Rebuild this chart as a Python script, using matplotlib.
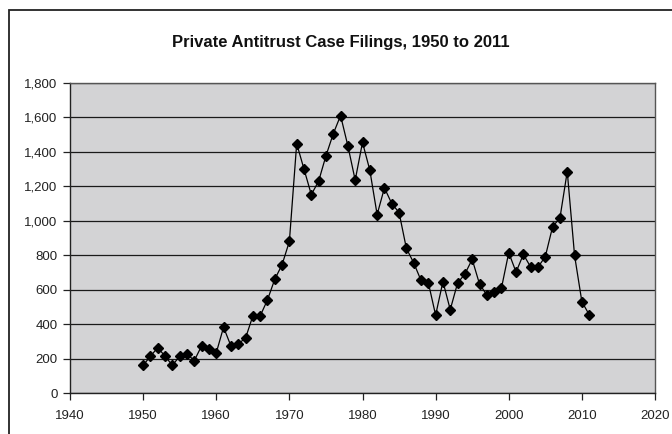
import matplotlib
matplotlib.use('Agg')
import matplotlib.pyplot as plt
from matplotlib.patches import Rectangle
from matplotlib.ticker import FuncFormatter

years = list(range(1950, 2012))
filings = [161, 213, 264, 213, 161, 213, 227, 188, 274, 254,
           233, 382, 274, 286, 318, 447, 447, 540, 660, 745,
           880, 1448, 1300, 1152, 1230, 1377, 1505, 1611, 1435, 1236,
           1455, 1294, 1036, 1191, 1100, 1048, 840, 756, 654, 641,
           452, 647, 484, 638, 691, 776, 633, 569, 588, 609,
           815, 702, 805, 731, 731, 792, 966, 1016, 1286, 799,
           530, 455]

x_ticks = list(range(1940, 2021, 10))
y_ticks = list(range(0, 1801, 200))

plt.rcParams['font.family'] = ['Liberation Sans Narrow', 'Liberation Sans', 'DejaVu Sans']

fig = plt.figure(figsize=(6.72, 4.34), dpi=100)
fig.patch.set_facecolor('white')

# outer chart frame (open on right and bottom)
fig.patches.append(Rectangle((9 / 672, -0.2), 1.2, 1.2 - 10 / 434,
                             transform=fig.transFigure, fill=False,
                             edgecolor='#222222', linewidth=1.3))

ax = fig.add_axes([70 / 672, 1 - 393 / 434, 585 / 672, 310 / 434])
ax.set_facecolor('#d3d3d5')

ax.plot(years, filings, color='black', linewidth=0.9, marker='D',
        markersize=5, markerfacecolor='black', markeredgecolor='black', zorder=3)

ax.set_xlim(1940, 2020)
ax.set_ylim(0, 1800)
ax.set_xticks(x_ticks)
ax.set_yticks(y_ticks)
ax.yaxis.set_major_formatter(FuncFormatter(lambda v, p: f'{int(v):,}'))
ax.grid(axis='y', color='#1a1a1a', linewidth=0.9)
ax.set_axisbelow(True)

for side in ['top', 'right']:
    ax.spines[side].set_color('#555555')
    ax.spines[side].set_linewidth(1.0)
for side in ['left', 'bottom']:
    ax.spines[side].set_color('#222222')
    ax.spines[side].set_linewidth(1.0)

ax.tick_params(axis='both', direction='out', length=5, width=0.9,
               labelsize=9.5, colors='#222222', pad=4)
ax.tick_params(axis='x', pad=7)

fig.text(341 / 672, 1 - 43 / 434, 'Private Antitrust Case Filings, 1950 to 2011',
         ha='center', va='center', fontsize=12, fontweight='bold', color='#111111')

fig.savefig('out.png', dpi=100)
